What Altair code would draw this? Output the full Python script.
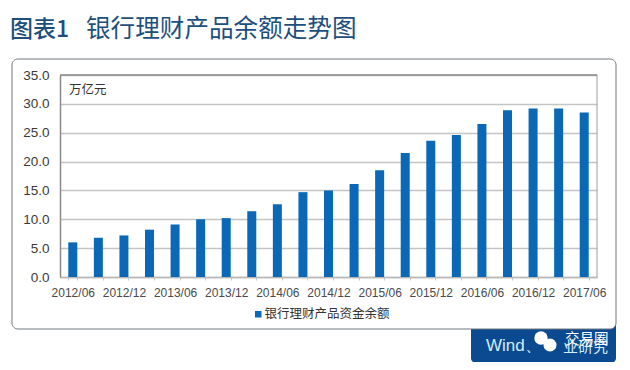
import altair as alt
import pandas as pd

categories = ["2012/06","2012/09","2012/12","2013/03","2013/06","2013/09","2013/12","2014/03","2014/06","2014/09","2014/12",
              "2015/03","2015/06","2015/09","2015/12","2016/03","2016/06","2016/09","2016/12","2017/03","2017/06"]
values = [6.0,6.8,7.2,8.2,9.1,10.0,10.2,11.4,12.6,14.7,15.0,16.1,18.5,21.5,23.6,24.6,26.5,28.9,29.2,29.2,28.5]
series_name = "银行理财产品资金余额"
shown_labels = categories[::2]

df = pd.DataFrame({"period": categories, "value": values, "series": series_name})

LEFT, TOP = 52, 67
W, H = 537, 202
CJK = "Noto Sans CJK SC"
LAT = "Liberation Sans"


def px(x):
    return alt.value(x - 8 - LEFT)


def py(y):
    return alt.value(y - 8 - TOP)


def box(x0, x1, y0, y1, **kw):
    return alt.Chart(df.head(1)).mark_rect(**kw).encode(x=px(x0), x2=px(x1), y=py(y0), y2=py(y1))


def label(text, x, y, size, color, font=CJK, weight="normal", align="left"):
    return alt.Chart(df.head(1)).mark_text(
        text=text, fontSize=size, font=font, color=color, fontWeight=weight, align=align, baseline="middle"
    ).encode(x=px(x), y=py(y))


def blob(x, y, size):
    return alt.Chart(df.head(1)).mark_point(
        shape="circle", filled=True, color="#ffffff", opacity=1, size=size
    ).encode(x=px(x), y=py(y))


footer = box(471, 616, 320, 363, fill="#0b4a90", cornerRadius=5)
patch = box(465, 616, 305, 329, fill="#ffffff", cornerRadius=6)
panel = box(12, 616, 59, 329, fill="#ffffff", fillOpacity=0, stroke="#70787c", strokeWidth=1, cornerRadius=6)

label_test = "indexof(" + str(shown_labels) + ", datum.value) >= 0 ? datum.value : ''"

bars = alt.Chart(df).mark_bar(size=9, color="#0a68b6").encode(
    x=alt.X("period:N", sort=categories, title=None, scale=alt.Scale(paddingInner=0.65, paddingOuter=0.325),
            axis=alt.Axis(labelExpr=label_test, labelAngle=0, labelOverlap=False, labelFont=LAT, labelFontSize=12,
                          labelColor="#4a4a4a", labelPadding=7, tickBand="extent", tickSize=3, tickColor="#c8c8c8",
                          domainColor="#b8b8b8", domainWidth=1.5, grid=False)),
    y=alt.Y("value:Q", title=None, scale=alt.Scale(domain=[0, 35]),
            axis=alt.Axis(values=[0, 5, 10, 15, 20, 25, 30, 35], format=".1f", labelFont=LAT, labelFontSize=13.5,
                          labelColor="#3a3a3a", labelPadding=11, ticks=False, domainColor="#8a8a8a",
                          domainWidth=1.5, grid=True, gridColor="#c4c4c4", gridWidth=1.4)),
    color=alt.Color("series:N", scale=alt.Scale(range=["#0a68b6"]), title=None,
                    legend=alt.Legend(orient="none", legendX=254 - 8 - LEFT - 2, legendY=308 - 8 - TOP,
                                      symbolType="square", symbolSize=42, symbolStrokeWidth=0, labelFont=CJK,
                                      labelFontSize=12.5, labelColor="#333333", labelOffset=0, padding=0)),
)

top_line = alt.Chart(df.head(1)).mark_rule(color="#8a8a8a", strokeWidth=1.5).encode(x=alt.value(0), x2=alt.value(W), y=alt.value(0))
right_line = alt.Chart(df.head(1)).mark_rule(color="#a0a0a0", strokeWidth=1).encode(x=alt.value(W), y=alt.value(0), y2=alt.value(H))

chart = alt.layer(
    footer, patch, panel, top_line, right_line, bars,
    label("图表1", 10, 30, 23, "#1d4f7c", weight=500),
    label("银行理财产品余额走势图", 86, 30, 24.6, "#1d4f7c"),
    label("万亿元", 69, 90, 12.5, "#333333"),
    label("Wind、", 486, 346, 17, "#d5edf8", font=LAT),
    label("业研究", 563, 347, 15, "#d5edf8"),
    blob(541, 338, 180), blob(550, 345, 170),
    label("交易圈", 565, 340, 14.5, "#ffffff"),
).properties(
    width=W, height=H, background="#ffffff",
    padding={"left": LEFT, "top": TOP, "right": 25, "bottom": 85},
    autosize=alt.AutoSizeParams(type="none"),
).configure_view(stroke=None)

chart.save("out.html", embed_options={"renderer": "svg", "actions": False})
